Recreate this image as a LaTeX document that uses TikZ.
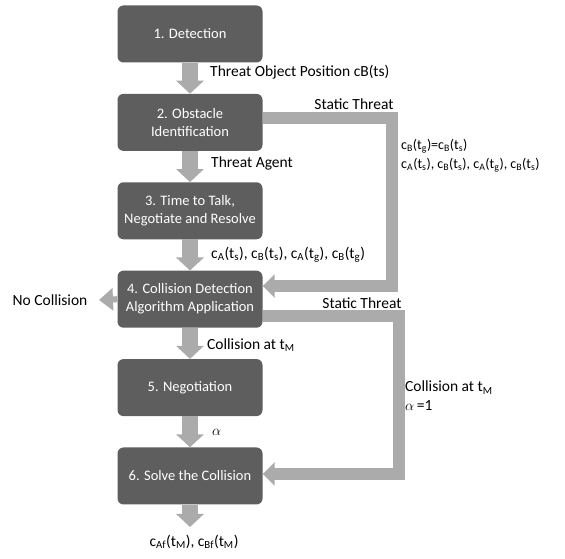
\documentclass[tikz,border=0pt]{standalone}
\usepackage{fontspec}
\setmainfont{Carlito}
\usetikzlibrary{positioning,arrows.meta}
\definecolor{boxgray}{HTML}{5E5E5E}
\definecolor{flowgray}{HTML}{ABABAB}
\newcommand{\cpos}[2]{c\textsubscript{#1}(t\textsubscript{#2})}
\tikzset{stage/.style={rectangle,rounded corners=6bp,fill=boxgray,text=white,
		minimum width=145bp,minimum height=57bp,align=center,
		font=\fontsize{14.5bp}{18bp}\selectfont},
	 flow/.style={draw=flowgray,line width=16bp,
		-{Triangle[width=27bp,length=13bp]}},
	 loop/.style={draw=flowgray,line width=12.5bp,
		-{Triangle[width=23bp,length=12bp]}},
	 lbl/.style={inner sep=0pt,font=\fontsize{15.5bp}{19bp}\selectfont,align=left},
	 node distance = 31bp
	 }

\begin{document}
\begin{tikzpicture}[x=1bp,y=1bp]
	\useasboundingbox (0,0) rectangle (565,559);
	\node[stage] (b1) at (190,525) {1. Detection};
	\node[stage] (b2) [below= of b1] {2. Obstacle\\Identification};
	\node[stage] (b3) [below= of b2] {3. Time to Talk,\\Negotiate and Resolve};
	\node[stage] (b4) [below= of b3] {4. Collision Detection\\Algorithm Application};
	\node[stage] (b5) [below= of b4] {5. Negotiation};
	\node[stage] (b6) [below= of b5] {6. Solve the Collision};
	% main chain
	\draw[flow] (b1) -- (b2);
	\draw[flow] (b2) -- (b3);
	\draw[flow] (b3) -- (b4);
	\draw[flow] (b4) -- (b5);
	\draw[flow] (b5) -- (b6);
	\coordinate (out) at (190,32);
	\draw[flow] (b6) -- (out);
	\coordinate (nc) at (99,259);
	\draw[loop,line width=6bp,-{Triangle[width=22bp,length=14bp]}] (b4.west) -- (nc);
	% static threat loops
	\coordinate (r1a) at (392,441); \coordinate (r1b) at (392,273);
	\draw[loop] (b2.east |- r1a) -- (r1a) -- (r1b) -- (b4.east |- r1b);
	\coordinate (r2a) at (399,243); \coordinate (r2b) at (399,85);
	\draw[loop] (b4.east |- r2a) -- (r2a) -- (r2b) -- (b6.east |- r2b);
	% labels
	\node[lbl,anchor=west] (l1) at (210,487) {Threat Object Position cB(ts)};
	\node[lbl] (st1) at (354,455) {Static Threat};
	\node[lbl,anchor=west] (l2) at (211,396) {Threat Agent};
	\node[lbl,anchor=north west,font=\fontsize{14bp}{19bp}\selectfont] (l3) at (401,420)
		{\cpos{B}{g}=\cpos{B}{s}\\\cpos{A}{s}, \cpos{B}{s}, \cpos{A}{g}, \cpos{B}{s}};
	\node[lbl,anchor=west] (l4) at (211,304) {\cpos{A}{s}, \cpos{B}{s}, \cpos{A}{g}, \cpos{B}{g}};
	\node[lbl] (st2) at (362,256) {Static Threat};
	\node[lbl] (nol) at (50,259) {No Collision};
	\node[lbl,anchor=west] (l5) at (207,214) {Collision at t\textsubscript{M}};
	\node[lbl,anchor=north west] (l6) at (405,178) {Collision at t\textsubscript{M}\\$\alpha$\,=1};
	\node[lbl,anchor=west] (l7) at (212,127) {$\alpha$};
	\node[lbl] (l8) at (194,17) {c\textsubscript{Af}(t\textsubscript{M}), c\textsubscript{Bf}(t\textsubscript{M})};
\end{tikzpicture}
\end{document}
